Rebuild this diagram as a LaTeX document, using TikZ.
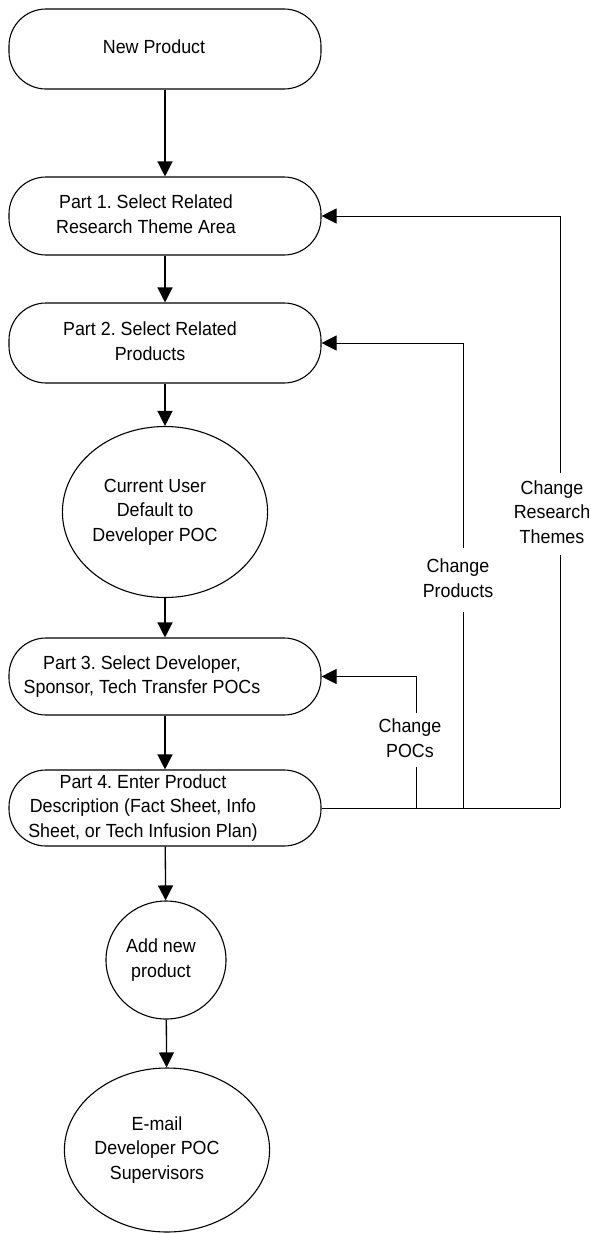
\documentclass[tikz,border=0pt]{standalone}
\usepackage{fontspec}
\setmainfont[FakeStretch=0.94]{Liberation Sans}
\frenchspacing
\usetikzlibrary{arrows.meta,calc,shapes.geometric}
\newcommand\tcell[2][0pt]{\begin{tabular}{@{}c@{}}#2\end{tabular}\hspace*{#1}}
\tikzset{
  txtfont/.style={font=\fontsize{19}{24.5}\selectfont},
  stadium/.style={draw, line width=1.1pt, rounded corners=37pt, minimum width=312pt, inner sep=0pt, txtfont},
  oval/.style={draw, ellipse, line width=1.1pt, inner sep=0pt, txtfont},
  lbl/.style={inner sep=0pt, txtfont},
  arr/.style={-{Triangle[length=15pt,width=15pt]}, line width=1.3pt},
  fb/.style={line width=0.9pt},
  fbarr/.style={fb, -{Triangle[length=15pt,width=15pt]}},
}
\begin{document}
\begin{tikzpicture}[x=1pt,y=-1pt]
\useasboundingbox (0,0) rectangle (591,1234);
\node[stadium, minimum height=80pt] (np) at (165,49) {\tcell[22pt]{New Product}};
\node[stadium, minimum height=78pt] (p1) at (165,216) {\tcell[38pt]{Part 1. Select Related\\Research Theme Area}};
\node[stadium, minimum height=80pt] (p2) at (165,343) {\tcell[30pt]{Part 2. Select Related\\Products}};
\node[oval, minimum width=156pt, minimum height=171pt] (cu) at (165,512) {\tcell[20pt]{Current User\\Default to\\Developer POC}};
\node[stadium, minimum height=77pt] (p3) at (165,676.5) {\tcell[46pt]{Part 3. Select Developer,\\Sponsor, Tech Transfer POCs}};
\node[stadium, minimum height=76pt] (p4) at (165,808) {\tcell[44pt]{Part 4. Enter Product\\Description (Fact Sheet, Info\\Sheet, or Tech Infusion Plan)}};
\node[oval, minimum width=120pt, minimum height=118pt] (add) at (166,960) {\tcell[10pt]{Add new\\product}};
\node[oval, minimum width=166pt, minimum height=164pt] (em) at (167,1150) {\tcell[20pt]{E-mail\\Developer POC\\Supervisors}};

% labels on feedback lines
\node[lbl, minimum height=54pt] (lpoc) at (410,740) {\tcell{Change\\POCs}};
\node[lbl, minimum height=63pt] (lprod) at (458,580) {\tcell{Change\\Products}};
\node[lbl, minimum height=82pt] (lres) at (552,514) {\tcell{Change\\Research\\Themes}};

% junctions
\coordinate (j1) at (416.5,808);
\coordinate (j2) at (463,808);
\coordinate (j3) at (560,808);

% main flow
\draw[arr] (np) -- (p1);
\draw[arr] (p1) -- (p2);
\draw[arr] (p2) -- (cu);
\draw[arr] (cu) -- (p3);
\draw[arr] (p3) -- (p4);
\draw[arr] (p4) -- (add);
\draw[arr] (add) -- (em);

% feedback
\draw[fb] (p4.east) -- (j3);
\draw[fb] (j1) -- (lpoc.south -| j1);
\draw[fbarr] (lpoc.north -| j1) -- (j1 |- p3.east) -- (p3.east);
\draw[fb] (j2) -- (lprod.south -| j2);
\draw[fbarr] (lprod.north -| j2) -- (j2 |- p2.east) -- (p2.east);
\draw[fb] (j3) -- (lres.south -| j3);
\draw[fbarr] (lres.north -| j3) -- (j3 |- p1.east) -- (p1.east);
\end{tikzpicture}
\end{document}
